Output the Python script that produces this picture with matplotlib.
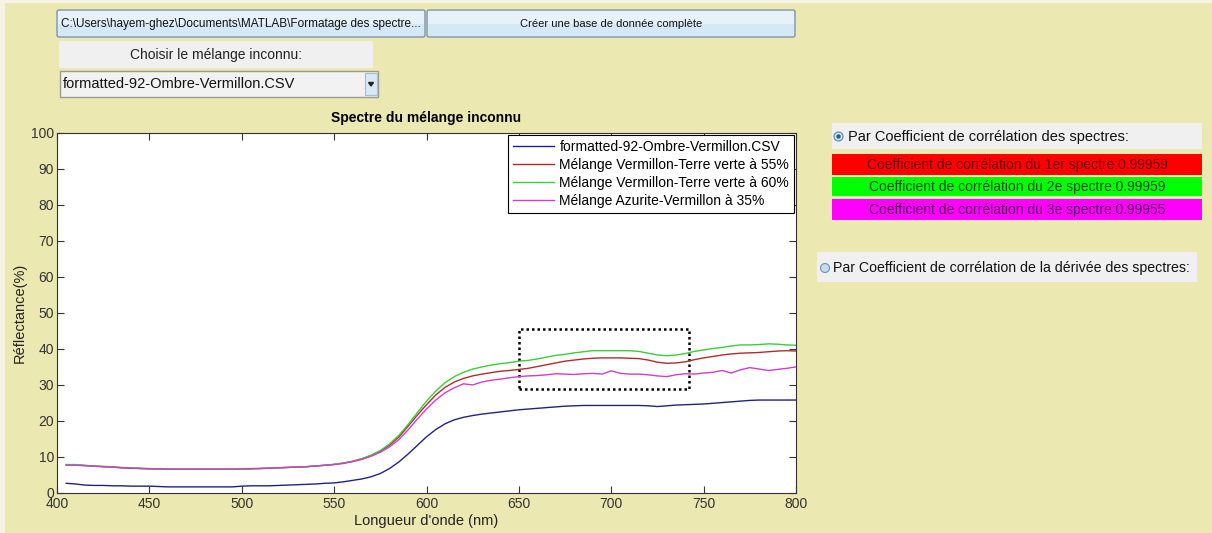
import numpy as np
import matplotlib
matplotlib.use("Agg")
import matplotlib.pyplot as plt
from matplotlib.patches import Rectangle, FancyBboxPatch, Circle

plt.rcParams['font.family'] = ['Liberation Sans', 'DejaVu Sans']

# ── data ───────────────────────────────────────────────────────────────
wavelength = list(range(405, 805, 5))

ombre_vermillon = [
    2.7, 2.5, 2.2, 2.1, 2.1, 2.0, 2.0, 1.9, 1.9, 1.9,
    1.8, 1.7, 1.7, 1.7, 1.7, 1.7, 1.7, 1.7, 1.7, 1.9,
    2.0, 2.0, 2.0, 2.1, 2.2, 2.3, 2.4, 2.5, 2.7, 2.8,
    3.1, 3.5, 3.9, 4.5, 5.4, 6.8, 8.6, 10.8, 13.2, 15.6,
    17.6, 19.2, 20.3, 21.0, 21.5, 21.9, 22.2, 22.5, 22.8, 23.1,
    23.3, 23.5, 23.7, 23.9, 24.1, 24.2, 24.3, 24.3, 24.3, 24.3,
    24.3, 24.3, 24.3, 24.2, 24.0, 24.2, 24.4, 24.5, 24.6, 24.7,
    24.9, 25.1, 25.3, 25.5, 25.7, 25.8, 25.8, 25.8, 25.8, 25.8,
]

vermillon_terre_55 = [
    7.8, 7.8, 7.6, 7.5, 7.3, 7.2, 7.0, 6.9, 6.8, 6.7,
    6.7, 6.6, 6.6, 6.6, 6.6, 6.6, 6.6, 6.6, 6.6, 6.6,
    6.7, 6.8, 6.9, 7.0, 7.1, 7.2, 7.3, 7.5, 7.7, 7.9,
    8.3, 8.8, 9.5, 10.4, 11.6, 13.3, 15.5, 18.5, 21.6, 24.5,
    27.2, 29.3, 30.8, 31.8, 32.5, 33.0, 33.4, 33.8, 34.0, 34.3,
    34.6, 35.1, 35.6, 36.1, 36.6, 36.9, 37.2, 37.4, 37.5, 37.5,
    37.5, 37.4, 37.3, 36.9, 36.3, 36.0, 36.1, 36.4, 37.0, 37.5,
    37.9, 38.3, 38.6, 38.8, 38.9, 39.0, 39.2, 39.4, 39.5, 39.4,
]

vermillon_terre_60 = [
    7.9, 7.9, 7.7, 7.5, 7.4, 7.3, 7.1, 7.0, 6.9, 6.8,
    6.7, 6.7, 6.6, 6.6, 6.6, 6.6, 6.6, 6.6, 6.6, 6.6,
    6.7, 6.8, 6.9, 7.0, 7.1, 7.2, 7.3, 7.5, 7.7, 8.0,
    8.3, 8.8, 9.5, 10.5, 11.8, 13.6, 16.0, 19.0, 22.3, 25.5,
    28.3, 30.6, 32.3, 33.5, 34.4, 35.0, 35.5, 35.9, 36.2, 36.6,
    36.8, 37.2, 37.7, 38.2, 38.5, 38.9, 39.2, 39.5, 39.5, 39.5,
    39.5, 39.5, 39.3, 38.8, 38.3, 38.1, 38.3, 38.7, 39.3, 39.7,
    40.1, 40.4, 40.8, 41.1, 41.1, 41.2, 41.4, 41.3, 41.1, 41.0,
]

azurite_vermillon_35 = [
    7.7, 7.7, 7.6, 7.4, 7.3, 7.2, 7.0, 6.9, 6.8, 6.7,
    6.7, 6.6, 6.6, 6.6, 6.6, 6.6, 6.6, 6.6, 6.6, 6.7,
    6.8, 6.8, 6.9, 7.0, 7.1, 7.2, 7.3, 7.5, 7.7, 7.9,
    8.2, 8.7, 9.3, 10.2, 11.3, 12.8, 14.8, 17.5, 20.5, 23.3,
    25.8, 27.8, 29.2, 30.3, 30.0, 30.8, 31.3, 31.6, 32.0, 32.3,
    32.5, 32.6, 32.8, 33.1, 33.0, 32.9, 33.1, 33.2, 33.0, 33.9,
    33.2, 33.0, 33.0, 32.8, 32.5, 32.3, 32.8, 33.1, 33.0, 33.3,
    33.5, 34.0, 33.3, 34.2, 34.8, 34.4, 34.0, 34.3, 34.6, 35.0,
]

series_labels = [
    "formatted-92-Ombre-Vermillon.CSV",
    "Mélange Vermillon-Terre verte à 55%",
    "Mélange Vermillon-Terre verte à 60%",
    "Mélange Azurite-Vermillon à 35%",
]
series_colors = ["#22227f", "#b02c2c", "#3ccc3c", "#cc40cc"]

# zoom box drawn on the plot (data units)
zoom_x = (650, 742)
zoom_y = (29, 45.5)

corr_values = [0.99959, 0.99959, 0.99955]
corr_labels = ["1er", "2e", "3e"]
corr_bg = ["#ff0000", "#00ff00", "#ff00ff"]
corr_fg = ["#6a0000", "#004a00", "#5a005a"]

BG = "#ece8b1"
W, H = 1212, 533

# ── figure ─────────────────────────────────────────────────────────────
fig = plt.figure(figsize=(W / 100, H / 100), dpi=100, facecolor=BG)

# overlay in pixel coordinates for the GUI widgets
gui = fig.add_axes([0, 0, 1, 1], zorder=0)
gui.set_xlim(0, W)
gui.set_ylim(H, 0)
gui.axis("off")

# thin light border at top/left of the window
gui.add_patch(Rectangle((0, 0), W, 3, color="#f6f4e4", lw=0))
gui.add_patch(Rectangle((0, 0), 5, H, color="#f6f4e4", lw=0))


def button(x0, y0, x1, y1, text, size=8):
    gui.add_patch(FancyBboxPatch((x0, y0), x1 - x0, y1 - y0,
                                 boxstyle="round,pad=0,rounding_size=2",
                                 fc="#d5e8f6", ec="#7f95ab", lw=1))
    gui.add_patch(Rectangle((x0 + 1, y0 + 1), x1 - x0 - 2, (y1 - y0) / 2 - 1,
                            color="#e6f1fa", lw=0))
    gui.text((x0 + x1) / 2, (y0 + y1) / 2 + 0.5, text, ha="center", va="center",
             fontsize=size, color="#111111", clip_on=True)


button(57, 10, 425, 37, "C:\\Users\\hayem-ghez\\Documents\\MATLAB\\Formatage des spectre...",
       size=8.5)
button(427, 10, 795, 37, "Créer une base de donnée complète")

# "Choisir" label panel
gui.add_patch(Rectangle((59, 41), 314, 27, color="#f0f0f0", lw=0))
gui.text(216, 54.5, "Choisir le mélange inconnu:", ha="center", va="center",
         fontsize=10, color="#222222")

# dropdown
gui.add_patch(Rectangle((60, 71), 318, 26, fc="#f2f2f2", ec="#9a9a9a", lw=1))
gui.add_patch(Rectangle((365, 73), 12, 22, fc="#d8e8f4", ec="#a9bccd", lw=0.8))
gui.add_patch(plt.Polygon([[368.5, 82.5], [373.5, 82.5], [371, 86]], color="#222222"))
gui.text(63, 84.5, "formatted-92-Ombre-Vermillon.CSV", ha="left", va="center",
         fontsize=10.5, color="#111111")

# radio group 1
gui.add_patch(Rectangle((832, 123), 370, 26, color="#f0f0f0", lw=0))
gui.add_patch(Circle((838.5, 136.5), 4.5, fc="#cfe3f3", ec="#5f86a8", lw=0.8))
gui.add_patch(Circle((838.5, 136.5), 2.2, fc="#1f5f9f", lw=0))
gui.text(848, 136.5, "Par Coefficient de corrélation des spectres:", ha="left",
         va="center", fontsize=10.5, color="#111111")

box_rows = [(154, 175), (177, 196), (199, 220)]
for (y0, y1), lab, val, bgc, fgc in zip(box_rows, corr_labels, corr_values,
                                       corr_bg, corr_fg):
    gui.add_patch(Rectangle((832, y0), 370, y1 - y0, color=bgc, lw=0))
    gui.text(1017, (y0 + y1) / 2 + 0.5,
             f"Coefficient de corrélation du {lab} spectre:{val:.5f}",
             ha="center", va="center", fontsize=10, color=fgc)

# radio group 2
gui.add_patch(Rectangle((817, 252), 380, 30, color="#f0f0f0", lw=0))
gui.add_patch(Circle((825, 268), 4.5, fc="#c4dcef", ec="#6f92b2", lw=0.8))
gui.text(833, 268, "Par Coefficient de corrélation de la dérivée des spectres:",
         ha="left", va="center", fontsize=10.2, color="#111111")

# ── spectrum plot ──────────────────────────────────────────────────────
left, right, bottom, top = 57, 796, 493, 132.7
ax = fig.add_axes([left / W, 1 - bottom / H, (right - left) / W, (bottom - top) / H],
                  zorder=2)
ax.set_facecolor("white")

for ys, lab, col in zip([ombre_vermillon, vermillon_terre_55, vermillon_terre_60,
                         azurite_vermillon_35], series_labels, series_colors):
    ax.plot(wavelength, ys, color=col, lw=1.0, label=lab)

ax.add_patch(Rectangle((zoom_x[0], zoom_y[0]), zoom_x[1] - zoom_x[0],
                       zoom_y[1] - zoom_y[0], fill=False, ec="black",
                       lw=1.8, ls=(0, (1, 1.2))))

ax.set_xlim(400, 800)
ax.set_ylim(0, 100)
ax.set_xticks(range(400, 801, 50))
ax.set_yticks(range(0, 101, 10))
ax.tick_params(direction="in", top=True, right=True, length=5, width=0.8,
               labelsize=10, colors="#333333")
ax.tick_params(axis="x", pad=3)
ax.tick_params(axis="y", pad=2)
for sp in ax.spines.values():
    sp.set_color("#333333")
    sp.set_linewidth(0.8)

ax.set_title("Spectre du mélange inconnu", fontsize=10, fontweight="bold",
             pad=8)
ax.set_xlabel("Longueur d'onde (nm)", fontsize=10.5, labelpad=2, color="#222222")
ax.set_ylabel("Réflectance(%)", fontsize=10.5, labelpad=3, color="#222222")

leg = ax.legend(loc="upper right", fontsize=10, frameon=True, fancybox=False,
                edgecolor="black", framealpha=1, borderaxespad=0.15,
                handlelength=3.0, handletextpad=0.35, labelspacing=0.3,
                borderpad=0.35)
leg.get_frame().set_linewidth(0.8)

fig.savefig("out.png", dpi=100, facecolor=BG)
